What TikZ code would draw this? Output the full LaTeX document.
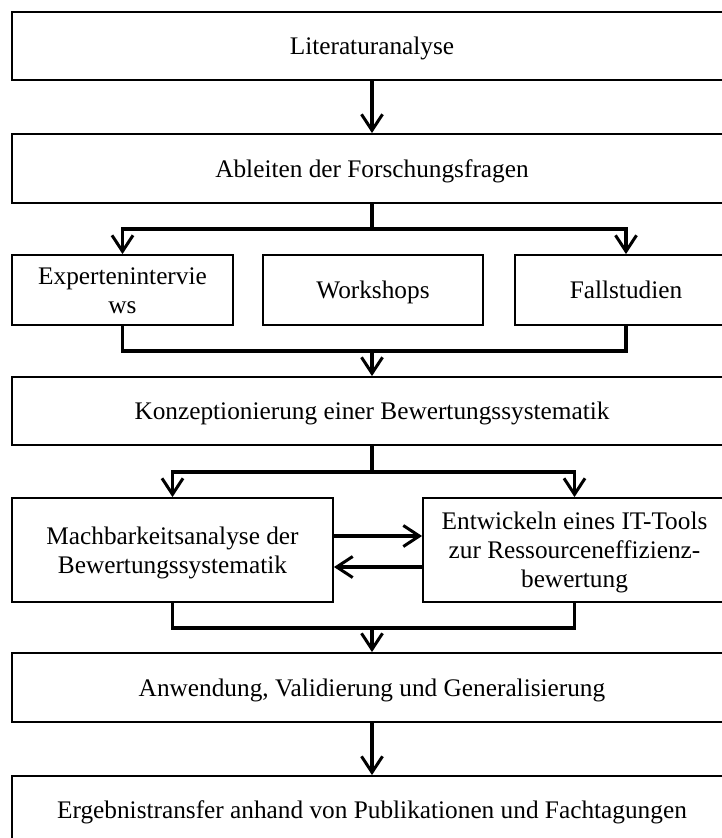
\documentclass[tikz,border=0pt]{standalone}
\usepackage{fontspec}
\setmainfont{Liberation Serif}
\usetikzlibrary{arrows.meta}
% line strut, a little taller above the baseline than below
\newcommand\lstrut{\rule[-5.4pt]{0pt}{28.4pt}}

\begin{document}
\begin{tikzpicture}[x=1pt,y=-1pt,
  box/.style={draw, line width=1.9pt, rectangle, inner sep=0pt, align=center,
    font=\fontsize{25.3}{28.8}\selectfont},
  wide/.style={box, minimum width=720pt, minimum height=68pt},
  link/.style={line width=3.2pt, line join=miter},
  barb/.tip={Straight Barb[length=16pt,width=21pt,line width=3pt]},
  tip/.style={link, -barb},
  twotip/.style={link, barb-barb}
]
\clip (0,0) rectangle (722,838);
\fill[white] (0,0) rectangle (722,838);

% main column
\node[wide] (lit)  at (372,46)    {\lstrut Literaturanalyse};
\node[wide, minimum height=69pt] (abl) at (372,168.5) {\lstrut Ableiten der Forschungsfragen};

% three data sources
\node[box, minimum width=221pt, minimum height=70pt] (exp)  at (122.5,290) {\lstrut Expertenintervie\\\lstrut ws};
\node[box, minimum width=220pt, minimum height=70pt] (work) at (373,290)   {\lstrut Workshops};
\node[box, minimum width=222pt, minimum height=70pt] (fall) at (626,290)   {\lstrut Fallstudien};

\node[wide] (konz) at (372,411) {\lstrut Konzeptionierung einer Bewertungssystematik};

% feasibility study and tool development
\node[box, minimum width=321pt, minimum height=104pt] (mach) at (172.5,550)
  {\lstrut Machbarkeitsanalyse der\\\lstrut Bewertungssystematik};
\node[box, minimum width=303pt, minimum height=104pt] (ent) at (574.5,550)
  {\lstrut Entwickeln eines IT-Tools\\\lstrut zur Ressourceneffizienz-\\\lstrut bewertung};

\node[wide, minimum height=69pt] (anw) at (372,687.5) {\lstrut Anwendung, Validierung und Generalisierung};
\node[wide] (erg) at (372,810) {\lstrut Ergebnistransfer anhand von Publikationen und Fachtagungen};

% connectors
\draw[tip] (lit.south) -- (abl.north);

\coordinate (s1) at (372,229);
\draw[link] (abl.south) -- (s1);
\draw[twotip] (exp.north) -- (exp.north |- s1) -- (fall.north |- s1) -- (fall.north);

\coordinate (m1) at (372,351);
\draw[link] (exp.south) -- (exp.south |- m1) -- (fall.south |- m1) -- (fall.south);
\draw[tip] (m1) -- (konz.north);

\coordinate (s2) at (372,472);
\draw[link] (konz.south) -- (s2);
\draw[twotip] (mach.north) -- (mach.north |- s2) -- (ent.north |- s2) -- (ent.north);

\draw[tip] ([yshift=14pt]mach.east) -- ([yshift=14pt]ent.west);
\draw[tip] ([yshift=-17pt]ent.west) -- ([yshift=-17pt]mach.east);

\coordinate (m2) at (372,628);
\draw[link] (mach.south) -- (mach.south |- m2) -- (ent.south |- m2) -- (ent.south);
\draw[tip] (m2) -- (anw.north);

\draw[tip] (anw.south) -- (erg.north);
\end{tikzpicture}
\end{document}
